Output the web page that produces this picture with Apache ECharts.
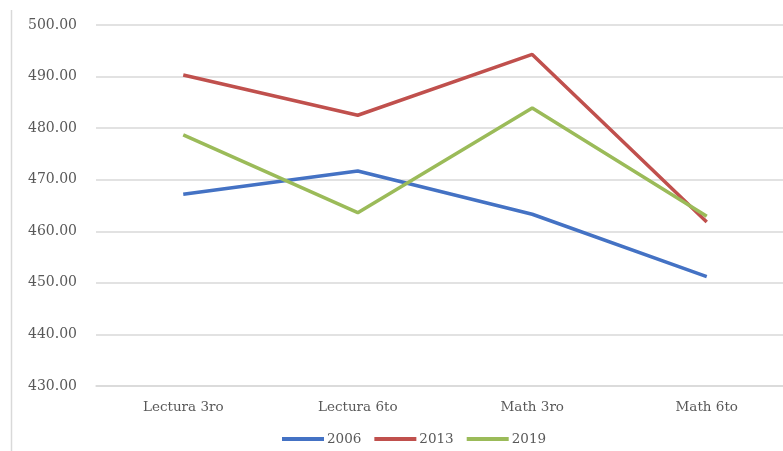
<!DOCTYPE html>
<html>
<head>
<meta charset="utf-8">
<script src="https://cdn.jsdelivr.net/npm/echarts@6/dist/echarts.min.js"></script>
<style>html,body{margin:0;padding:0;background:#fff;}#c{width:783px;height:451px;}</style>
</head>
<body>
<div id="c"></div>
<script>
var categories = ['Lectura 3ro', 'Lectura 6to', 'Math 3ro', 'Math 6to'];
var s2006 = [467.2, 471.7, 463.3, 451.2];
var s2013 = [490.3, 482.5, 494.3, 461.8];
var s2019 = [478.7, 463.6, 483.9, 462.9];
var yTicks = [430, 440, 450, 460, 470, 480, 490, 500];

var font = 'DejaVu Serif';
var chart = echarts.init(document.getElementById('c'), null, {renderer: 'canvas'});
function mk(name, data, color) {
  return {name: name, type: 'line', data: data, showSymbol: false, symbol: 'none',
    lineStyle: {width: 3.5, color: color}, itemStyle: {color: color}};
}
chart.setOption({
  animation: false,
  backgroundColor: '#fff',
  graphic: [{type: 'line', shape: {x1: 11.5, y1: 10, x2: 11.5, y2: 451}, style: {stroke: '#d9d9d9', lineWidth: 1.5}}],
  grid: {left: 96, width: 698, top: 25, bottom: 65, containLabel: false, outerBoundsMode: 'none'},
  legend: {
    bottom: 0, left: 277, icon: 'rect', itemWidth: 42, itemHeight: 4, itemGap: 13,
    textStyle: {fontFamily: font, fontSize: 13.5, color: '#595959', padding: [0, 0, 0, -2]},
    data: ['2006', '2013', '2019']
  },
  xAxis: {
    type: 'category', data: categories, boundaryGap: true,
    axisLine: {lineStyle: {color: '#d9d9d9', width: 1.5}},
    axisTick: {show: false},
    axisLabel: {fontFamily: font, fontSize: 13.5, color: '#595959', margin: 14}
  },
  yAxis: {
    type: 'value', min: yTicks[0], max: yTicks[yTicks.length - 1], interval: 10,
    axisLine: {show: false}, axisTick: {show: false},
    splitLine: {lineStyle: {color: '#d9d9d9', width: 1.5}},
    axisLabel: {fontFamily: font, fontSize: 14, color: '#595959', margin: 19,
      formatter: function (v) { return v.toFixed(2); }}
  },
  series: [mk('2006', s2006, '#4472C4'), mk('2013', s2013, '#C0504D'), mk('2019', s2019, '#9BBB59')]
});
</script>
</body>
</html>
